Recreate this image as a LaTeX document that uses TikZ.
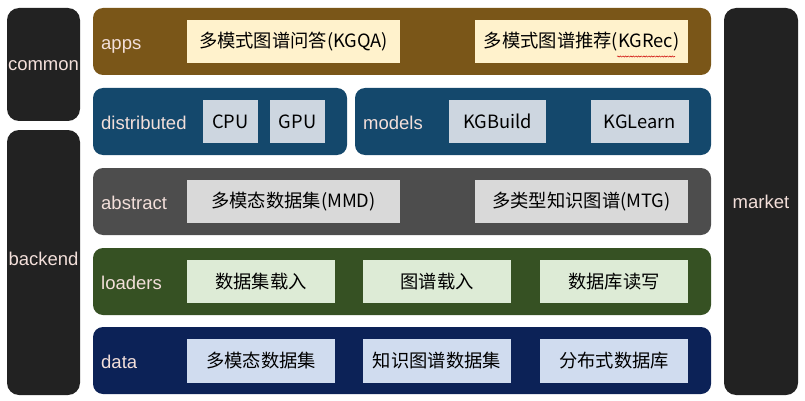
\documentclass[tikz,border=0pt]{standalone}
\usepackage{fontspec}
\setmainfont{Liberation Sans}
\newfontfamily\cjk{Noto Sans CJK SC}
\usetikzlibrary{decorations.pathmorphing}
\definecolor{sidec}{HTML}{222222}
\definecolor{labc}{HTML}{F3DFDA}
\definecolor{appsc}{HTML}{7A5618}
\definecolor{appsi}{HTML}{FFF2CC}
\definecolor{distc}{HTML}{14486C}
\definecolor{disti}{HTML}{CDD6E0}
\definecolor{absc}{HTML}{4D4D4D}
\definecolor{absi}{HTML}{D9D9D9}
\definecolor{loadc}{HTML}{365123}
\definecolor{loadi}{HTML}{DDEBD6}
\definecolor{datac}{HTML}{0C2257}
\definecolor{datai}{HTML}{D0DCEF}
\tikzset{
  bar/.style={rounded corners=10pt, inner sep=0pt, outer sep=0pt, anchor=north west},
  side/.style={fill=sidec, rounded corners=12pt, inner sep=0pt, outer sep=0pt, anchor=north west},
  sidelab/.style={text=labc, inner sep=0pt, font=\fontsize{18.5}{20}\selectfont},
  lab/.style={text=labc, anchor=base west, inner sep=0pt, font=\fontsize{18.5}{20}\selectfont},
  item/.style={anchor=north west, inner sep=0pt, outer sep=0pt, text=black, font=\cjk\fontsize{18.3}{20}\selectfont},
}
\begin{document}
\begin{tikzpicture}[x=1pt,y=-1pt]
\useasboundingbox (0,0) rectangle (805,401);
% side columns
\node[side, minimum width=73pt, minimum height=113pt] (common) at (7,8) {};
\node[sidelab] (commonl) at ([yshift=-1.5pt]common.center) {common};
\node[side, minimum width=73pt, minimum height=265pt] (backend) at (7,130) {};
\node[sidelab] (backendl) at ([yshift=3.5pt]backend.center) {backend};
\node[side, minimum width=74pt, minimum height=387pt] (market) at (724,8) {};
\node[sidelab] (marketl) at (market.center) {market};
% apps
\node[bar, fill=appsc, minimum width=618pt, minimum height=67pt] (apps) at (93,8) {};
\node[lab] (appsl) at (101,49.3) {apps};
\node[item, fill=appsi, minimum width=213pt, minimum height=43pt] (kgqa) at (187,20) {多模式图谱问答(KGQA)};
\node[item, fill=appsi, minimum width=213pt, minimum height=43pt] (kgrec) at (475,20) {多模式图谱推荐(KGRec)};
\draw[red!80!black, line width=0.5pt, decorate, decoration={snake, amplitude=0.6pt, segment length=2.6pt}]
  (617,56.5) -- (675,56.5);
% distributed
\node[bar, fill=distc, minimum width=254pt, minimum height=67pt] (dist) at (93,88) {};
\node[lab] (distl) at (101,129.3) {distributed};
\node[item, fill=disti, minimum width=55pt, minimum height=43pt] (cpu) at (203,100) {CPU};
\node[item, fill=disti, minimum width=55pt, minimum height=43pt] (gpu) at (270,100) {GPU};
% models
\node[bar, fill=distc, minimum width=356pt, minimum height=67pt] (models) at (355,88) {};
\node[lab] (modelsl) at (363,129.3) {models};
\node[item, fill=disti, minimum width=97pt, minimum height=43pt] (kgbuild) at (449,100) {KGBuild};
\node[item, fill=disti, minimum width=98pt, minimum height=43pt] (kglearn) at (591,100) {KGLearn};
% abstract
\node[bar, fill=absc, minimum width=618pt, minimum height=67pt] (abs) at (93,168) {};
\node[lab] (absl) at (101,209.3) {abstract};
\node[item, fill=absi, minimum width=213pt, minimum height=43pt] (mmd) at (187,180) {多模态数据集(MMD)};
\node[item, fill=absi, minimum width=213pt, minimum height=43pt] (mtg) at (475,180) {多类型知识图谱(MTG)};
% loaders
\node[bar, fill=loadc, minimum width=618pt, minimum height=67pt] (load) at (93,248) {};
\node[lab] (loadl) at (101,289.3) {loaders};
\node[item, fill=loadi, minimum width=148pt, minimum height=43pt] (l1) at (187,260) {数据集载入};
\node[item, fill=loadi, minimum width=148pt, minimum height=43pt] (l2) at (363,260) {图谱载入};
\node[item, fill=loadi, minimum width=148pt, minimum height=43pt] (l3) at (540,260) {数据库读写};
% data
\node[bar, fill=datac, minimum width=618pt, minimum height=67pt] (data) at (93,327) {};
\node[lab] (datal) at (101,368.3) {data};
\node[item, fill=datai, minimum width=148pt, minimum height=44pt] (d1) at (187,339) {多模态数据集};
\node[item, fill=datai, minimum width=148pt, minimum height=44pt] (d2) at (363,339) {知识图谱数据集};
\node[item, fill=datai, minimum width=148pt, minimum height=44pt] (d3) at (540,339) {分布式数据库};
\end{tikzpicture}
\end{document}
